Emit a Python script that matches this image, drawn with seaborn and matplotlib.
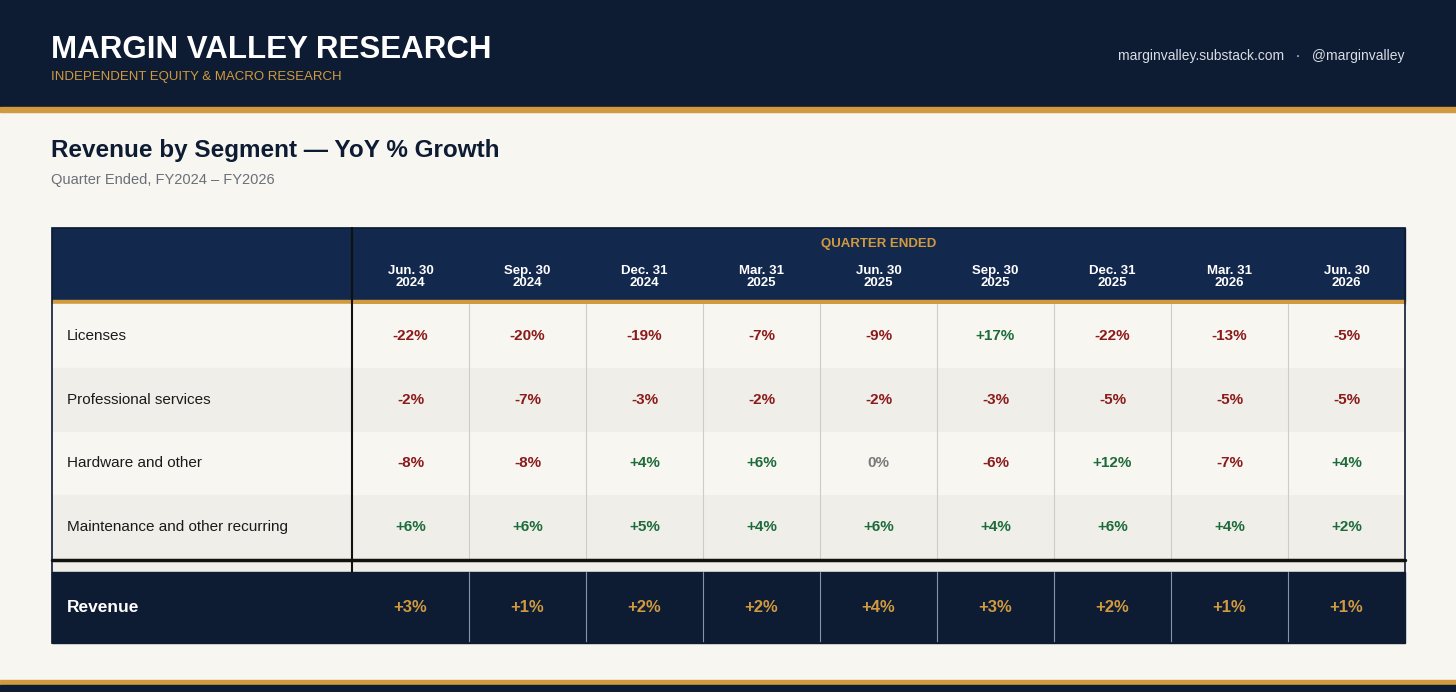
import numpy as np
import matplotlib
matplotlib.use("Agg")
import matplotlib.pyplot as plt
from matplotlib.colors import ListedColormap
from matplotlib.patches import Rectangle
import seaborn as sns

quarters = ["Jun. 30\n2024", "Sep. 30\n2024", "Dec. 31\n2024", "Mar. 31\n2025", "Jun. 30\n2025",
            "Sep. 30\n2025", "Dec. 31\n2025", "Mar. 31\n2026", "Jun. 30\n2026"]
segments = ["Licenses", "Professional services", "Hardware and other", "Maintenance and other recurring"]
licenses = [-22, -20, -19, -7, -9, 17, -22, -13, -5]
prof_services = [-2, -7, -3, -2, -2, -3, -5, -5, -5]
hardware = [-8, -8, 4, 6, 0, -6, 12, -7, 4]
maintenance = [6, 6, 5, 4, 6, 4, 6, 4, 2]
revenue = [3, 1, 2, 2, 4, 3, 2, 1, 1]

NAVY = "#0d1b33"; NAVY2 = "#13284d"; GOLD = "#d19a3f"; BG = "#f8f6f1"; ALT = "#efeee8"
RED = "#8b1a1a"; GREEN = "#1d6b3a"; GRAY = "#7a7a7a"; LINE = "#cfccc4"

sns.set_theme(style="white")
plt.rcParams['font.family'] = ['Liberation Sans', 'DejaVu Sans']

W, H = 1456, 692
fig = plt.figure(figsize=(W/100, H/100), dpi=100, facecolor=BG)
bg = fig.add_axes([0, 0, 1, 1]); bg.set_xlim(0, W); bg.set_ylim(H, 0); bg.axis("off")
bg.add_patch(Rectangle((0, 0), W, 107, color=NAVY))
bg.add_patch(Rectangle((0, 107), W, 5, color=GOLD))
bg.add_patch(Rectangle((0, 680), W, 5, color=GOLD))
bg.add_patch(Rectangle((0, 685), W, 7, color=NAVY))
bg.text(51, 50, "MARGIN VALLEY RESEARCH", color="white", fontsize=22.5, fontweight="bold", va="center")
bg.text(51, 77, "INDEPENDENT EQUITY & MACRO RESEARCH", color=GOLD, fontsize=9.5, va="center")
bg.text(1405, 56, "marginvalley.substack.com   ·   @marginvalley", color="#d8dce4", fontsize=10, va="center", ha="right")
bg.text(51, 151, "Revenue by Segment — YoY % Growth", color=NAVY, fontsize=17.5, fontweight="bold", va="center")
bg.text(51, 180, "Quarter Ended, FY2024 – FY2026", color="#6b6f78", fontsize=10.5, va="center")

# table frame
x0, x1, xl = 52, 1405, 352
bg.add_patch(Rectangle((x0, 228), x1-x0, 73, color=NAVY2))
bg.add_patch(Rectangle((x0, 300), x1-x0, 4, color=GOLD))
bg.text((xl+x1)/2, 244, "QUARTER ENDED", color=GOLD, fontsize=9.5, fontweight="bold", ha="center", va="center")
cw = (x1-xl)/9
for j, q in enumerate(quarters):
    bg.text(xl+cw*(j+0.5), 277, q, color="white", fontsize=9.5, fontweight="bold", ha="center", va="center", linespacing=1.05)
rh = (559-304)/4
for i, s in enumerate(segments):
    bg.add_patch(Rectangle((x0, 304+i*rh), xl-x0, rh, color=BG if i % 2 == 0 else ALT))
    bg.text(67, 304+rh*(i+0.5), s, color="#1a1a1a", fontsize=11, va="center")
bg.add_patch(Rectangle((x0, 561), x1-x0, 11, color=ALT))
bg.add_patch(Rectangle((x0, 572), x1-x0, 71, color=NAVY))
bg.text(67, 607, "Revenue", color="white", fontsize=12.5, fontweight="bold", va="center")

def fmt(v):
    return "0%" if v == 0 else f"{v:+d}%"

# body heatmap
body = np.array([licenses, prof_services, hardware, maintenance])
ax = fig.add_axes([xl/W, 1-559/H, (x1-xl)/W, (559-304)/H])
shade = np.array([[i % 2] * 9 for i in range(4)])
sns.heatmap(shade, ax=ax, cmap=ListedColormap([BG, ALT]), cbar=False, xticklabels=False, yticklabels=False)
for j in range(1, 9):
    ax.axvline(j, color=LINE, lw=0.8)
for i in range(4):
    for j in range(9):
        v = body[i, j]
        c = GRAY if v == 0 else (GREEN if v > 0 else RED)
        ax.text(j+0.5, i+0.5, fmt(v), color=c, fontsize=11, fontweight="bold", ha="center", va="center")

# revenue heatmap
ax2 = fig.add_axes([xl/W, 1-643/H, (x1-xl)/W, (643-572)/H])
sns.heatmap(np.zeros((1, 9)), ax=ax2, cmap=ListedColormap([NAVY]), cbar=False, xticklabels=False, yticklabels=False)
for j in range(1, 9):
    ax2.axvline(j, color="#8a93a3", lw=0.8)
for j, v in enumerate(revenue):
    ax2.text(j+0.5, 0.5, fmt(v), color=GOLD, fontsize=12, fontweight="bold", ha="center", va="center")

# borders
ov = fig.add_axes([0, 0, 1, 1]); ov.set_xlim(0, W); ov.set_ylim(H, 0); ov.axis("off")
ov.add_patch(Rectangle((x0, 228), x1-x0, 415, fill=False, ec=NAVY, lw=1.2))
ov.plot([xl, xl], [228, 572], color="#111", lw=1.5)
ov.plot([x0, x1], [560, 560], color="#111", lw=2.5)
ov.plot([xl, xl], [228, 300], color="#111", lw=1.5)

fig.savefig("out.png", dpi=100, facecolor=BG)
